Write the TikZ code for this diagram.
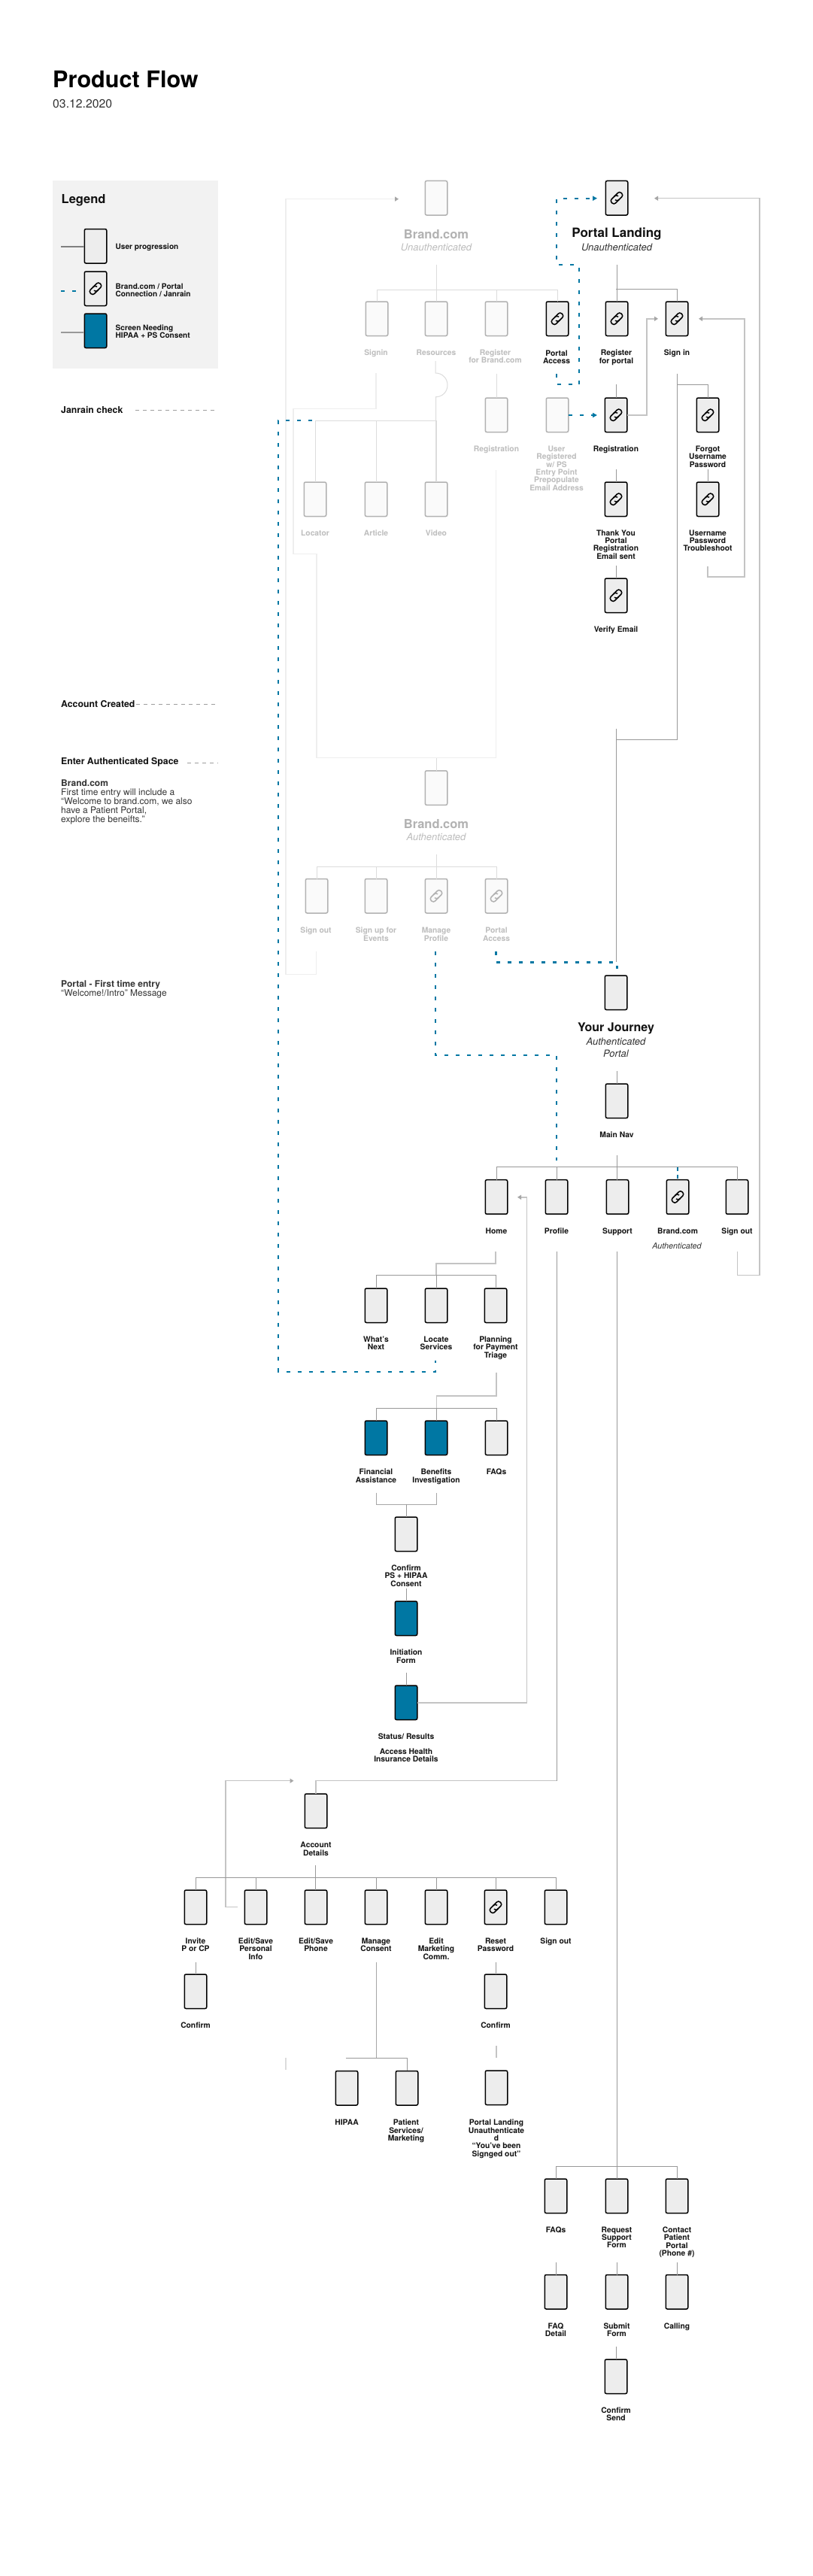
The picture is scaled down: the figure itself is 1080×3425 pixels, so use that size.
\documentclass[tikz,border=0pt]{standalone}
\usepackage{fontspec}
\setmainfont{TeX Gyre Heros}
\usetikzlibrary{arrows.meta}
\definecolor{brandblue}{HTML}{0077A3}
\definecolor{lineDark}{HTML}{999999}
\definecolor{lineMid}{HTML}{C4C4C4}
\definecolor{lineThin}{HTML}{DCDCDC}
\definecolor{lineFaint}{HTML}{EEEEEE}
\definecolor{lightText}{HTML}{BDBDBD}
\definecolor{inkText}{HTML}{111111}
\definecolor{softText}{HTML}{333333}
\newcommand{\fsz}[1]{\fontsize{#1}{#1}\selectfont}
\newcommand{\bigbus}[5][ln]{%
  \draw[#1] (#3.north) |- (#4.north |- 0,#2) -- (#4.north);
  \foreach \n in {#5}{\draw[#1] (\n.north) -- (\n.north |- 0,#2);}}
\tikzset{
  scrbase/.style={rectangle,anchor=north,minimum width=29.5pt,minimum height=45.5pt,
    line width=1.5pt,rounded corners=2pt,inner sep=0pt,outer sep=0pt},
  scrD/.style={scrbase,draw=black,fill=black!7},
  scrL/.style={scrbase,draw=black!30,fill=black!2},
  scrB/.style={scrbase,draw=black,fill=brandblue},
  lblbase/.style={anchor=north,align=center,inner sep=0pt,font=\fsz{10.3}\bfseries},
  lblD/.style={lblbase,text=inkText},
  lblL/.style={lblbase,text=lightText},
  headD/.style={anchor=center,inner sep=0pt,font=\fsz{16.5}\bfseries,text=inkText},
  headL/.style={anchor=center,inner sep=0pt,font=\fsz{16.5}\bfseries,text=black!30},
  subD/.style={anchor=center,inner sep=0pt,font=\fsz{13}\itshape,text=softText},
  subL/.style={anchor=center,inner sep=0pt,font=\fsz{13}\itshape,text=lightText},
  side/.style={anchor=west,inner sep=0pt,font=\fsz{12.3}\bfseries,text=inkText},
  sidetext/.style={anchor=north west,align=left,inner sep=0pt,font=\fsz{12},text=softText},
  leg/.style={anchor=north west,align=left,inner sep=0pt,font=\fsz{10.1}\bfseries,text=inkText},
  ln/.style={draw=lineDark,line width=1pt},
  mid/.style={draw=lineMid,line width=1.5pt},
  thinl/.style={draw=lineThin,line width=1pt},
  faint/.style={draw=lineFaint,line width=1.5pt},
  blue/.style={draw=brandblue,line width=2pt,dash pattern=on 5pt off 10pt},
  ruleln/.style={draw=black!38,line width=.75pt,dash pattern=on 5pt off 5pt},
  tipG/.style={-{Triangle[length=5pt,width=6pt,color=black!35]}},
  tipB/.style={-{Triangle[length=6pt,width=6pt,color=brandblue]}},
  iconD/.style={draw=black,line width=1.5pt},
  iconL/.style={draw=black!30,line width=1.5pt},
  chainicon/.pic={
    \begin{scope}[x={(0.7071pt,0.7071pt)},y={(-0.7071pt,0.7071pt)},rounded corners=3pt]
      \draw[pic actions] (3,0.3) -- (3,3.7) -- (-9,3.7) -- (-9,-3.7) -- (1,-3.7);
      \draw[pic actions] (-3,-0.3) -- (-3,-3.7) -- (9,-3.7) -- (9,3.7) -- (-1,3.7);
    \end{scope}}
}
\begin{document}
\begin{tikzpicture}[x=1pt,y=-1pt]
\useasboundingbox (0,0) rectangle (1080,3425);
\fill[white] (0,0) rectangle (1080,3425);

% ---- header and legend
\node[anchor=base west,inner sep=0pt,font=\fsz{30.6}\bfseries,text=black] (title) at (70,117) {Product Flow};
\node[anchor=base west,inner sep=0pt,font=\fsz{15.8},text=softText] (date) at (70,144) {03.12.2020};
\node[rectangle,fill=black!5,minimum width=220pt,minimum height=250pt,inner sep=0pt] (panel) at (180,365) {};
\node[anchor=base west,inner sep=0pt,font=\fsz{16.5}\bfseries,text=inkText] (legendT) at (81.5,270) {Legend};
\node[scrD] (legA) at (127,304.5) {};
\node[scrD] (legB) at (127,361) {};
\node[scrB] (legC) at (127,417) {};
\pic[iconD] at (legB) {chainicon};
\node[leg] (legAT) at (153.5,323.5) {User progression};
\node[leg] (legBT) at (153.5,377) {Brand.com / Portal\\Connection / Janrain};
\node[leg] (legCT) at (153.5,432) {Screen Needing\\HIPAA + PS Consent};
\coordinate (legAs) at (81,328.2);
\coordinate (legBs) at (81,386.8);
\coordinate (legCs) at (81,442);
\draw[draw=black!50,line width=1.5pt] (legAs) -- (legAs -| legA.west);
\draw[draw=black!40,line width=1.5pt] (legCs) -- (legCs -| legC.west);
\draw[draw=brandblue,line width=1.5pt,dash pattern=on 5pt off 10pt] (legBs) -- ++(20,0);

\node[side] (janrain) at (81,544.6) {Janrain check};
\coordinate (janA) at (180,545.4); \coordinate (janB) at (286,545.4);
\draw[ruleln] (janA) -- (janB);
\node[side] (created) at (81,935.7) {Account Created};
\coordinate (creA) at (181,936); \coordinate (creB) at (286,936);
\draw[ruleln] (creA) -- (creB);
\node[side] (enter) at (81,1013.7) {Enter Authenticated Space};
\coordinate (entA) at (249,1014.7); \coordinate (entB) at (290,1014.7);
\draw[ruleln] (entA) -- (entB);
\node[sidetext] (brandnote) at (81,1037) {\textbf{Brand.com}\\First time entry will include a\\“Welcome to brand.com, we also\\have a Patient Portal,\\explore the beneifts.”};
\node[sidetext] (portalnote) at (81,1303) {\textbf{Portal - First time entry}\\“Welcome!/Intro” Message};

% ---- Brand.com unauthenticated
\node[scrL] (brandtop) at (580,240.5) {};
\node[headL] (brandtopT) at (580,311.4) {Brand.com};
\node[subL] (brandtopS) at (580,328.8) {Unauthenticated};
\node[scrL] (signin) at (501,401) {};
\node[scrL] (resources) at (580,401) {};
\node[scrL] (regbrand) at (660,401) {};
\node[scrD] (portalacc) at (741,401) {};
\pic[iconD] at (portalacc) {chainicon};
\node[lblL] (signinT) at (500,464.5) {Signin};
\node[lblL] (resourcesT) at (580,464.5) {Resources};
\node[lblL] (regbrandT) at (658.5,464.5) {Register\\for Brand.com};
\node[lblD] (portalaccT) at (740,465.5) {Portal\\Access};
\node[scrL] (regb2) at (660,529) {};
\node[scrL] (userreg) at (741,529) {};
\node[lblL] (regb2T) at (660,592.8) {Registration};
\node[lblL] (userregT) at (740,592.8) {User\\Registered\\w/ PS\\Entry Point\\Prepopulate\\Email Address};
\node[scrL] (locator) at (419,641) {};
\node[scrL] (article) at (500,641) {};
\node[scrL] (video) at (580,641) {};
\node[lblL] (locatorT) at (419,704.5) {Locator};
\node[lblL] (articleT) at (500,704.5) {Article};
\node[lblL] (videoT) at (580,704.5) {Video};

% ---- Portal unauthenticated
\node[scrD] (portal) at (820,240.5) {};
\pic[iconD] at (portal) {chainicon};
\node[headD,font=\fsz{17}\bfseries] (portalT) at (820,311.4) {Portal Landing};
\node[subD] (portalS) at (820,328.8) {Unauthenticated};
\node[scrD] (regportal) at (820,401) {};
\pic[iconD] at (regportal) {chainicon};
\node[scrD] (signinp) at (900,401) {};
\pic[iconD] at (signinp) {chainicon};
\node[lblD] (regportalT) at (819.5,465) {Register\\for portal};
\node[lblD] (signinpT) at (900,464.7) {Sign in};
\node[scrD] (regp) at (819,529) {};
\pic[iconD] at (regp) {chainicon};
\node[lblD] (regpT) at (819,592.8) {Registration};
\node[scrD] (forgot) at (941,529) {};
\pic[iconD] at (forgot) {chainicon};
\node[lblD] (forgotT) at (941,592.8) {Forgot\\Username\\Password};
\node[scrD] (thanks) at (819,641) {};
\pic[iconD] at (thanks) {chainicon};
\node[lblD] (thanksT) at (819,704.5) {Thank You\\Portal\\Registration\\Email sent};
\node[scrD] (trouble) at (941,641) {};
\pic[iconD] at (trouble) {chainicon};
\node[lblD] (troubleT) at (941,704.5) {Username\\Password\\Troubleshoot};
\node[scrD] (verify) at (819,769) {};
\pic[iconD] at (verify) {chainicon};
\node[lblD] (verifyT) at (819,832.3) {Verify Email};

% ---- Brand.com authenticated
\node[scrL] (brandauth) at (580,1024.8) {};
\node[headL] (brandauthT) at (580,1095.4) {Brand.com};
\node[subL] (brandauthS) at (580,1112.9) {Authenticated};
\node[scrL] (signoutb) at (421,1168.5) {};
\node[scrL] (events) at (500,1168.5) {};
\node[scrL] (manage) at (580,1168.5) {};
\pic[iconL] at (manage) {chainicon};
\node[scrL] (portalb) at (660,1168.5) {};
\pic[iconL] at (portalb) {chainicon};
\node[lblL] (signoutbT) at (420,1233) {Sign out};
\node[lblL] (eventsT) at (500,1233) {Sign up for\\Events};
\node[lblL] (manageT) at (580,1233) {Manage\\Profile};
\node[lblL] (portalbT) at (660,1233) {Portal\\Access};

% ---- Your Journey
\node[scrD] (journey) at (819,1297) {};
\node[headD,font=\fsz{16}\bfseries] (journeyT) at (819,1367) {Your Journey};
\node[subD,align=center] (journeyS) at (819,1392.6) {Authenticated\\[3pt]Portal};
\node[scrD] (mainnav) at (820,1441) {};
\node[lblD] (mainnavT) at (820,1505) {Main Nav};
\node[scrD] (home) at (660,1568.7) {};
\node[scrD] (profile) at (740,1568.7) {};
\node[scrD] (support) at (821,1568.7) {};
\node[scrD] (brandnav) at (901,1568.7) {};
\pic[iconD] at (brandnav) {chainicon};
\node[scrD] (signoutn) at (980,1568.7) {};
\node[lblD] (homeT) at (660,1632.8) {Home};
\node[lblD] (profileT) at (740,1632.8) {Profile};
\node[lblD] (supportT) at (821,1632.8) {Support};
\node[lblD] (brandnavT) at (901,1632.8) {Brand.com};
\node[subD,font=\fsz{10.8}\itshape] (brandnavS) at (900,1656.4) {Authenticated};
\node[lblD] (signoutnT) at (980,1632.8) {Sign out};

% ---- Home branch
\node[scrD] (whats) at (500,1713) {};
\node[scrD] (locate) at (580,1713) {};
\node[scrD] (planning) at (659,1713) {};
\node[lblD] (whatsT) at (500,1776.8) {What’s\\Next};
\node[lblD] (locateT) at (580,1776.8) {Locate\\Services};
\node[lblD] (planningT) at (659,1776.8) {Planning\\for Payment\\Triage};
\node[scrB] (financial) at (500,1889) {};
\node[scrB] (benefits) at (580,1889) {};
\node[scrD] (faqa) at (660,1889) {};
\node[lblD] (financialT) at (500,1953) {Financial\\Assistance};
\node[lblD] (benefitsT) at (580,1953) {Benefits\\Investigation};
\node[lblD] (faqaT) at (660,1953) {FAQs};
\node[scrD] (confirmps) at (540,2017) {};
\node[lblD] (confirmpsT) at (540,2080.7) {Confirm\\PS + HIPAA\\Consent};
\node[scrB] (initiation) at (540,2129) {};
\node[lblD] (initiationT) at (540,2192.8) {Initiation\\Form};
\node[scrB] (status) at (540,2241) {};
\node[lblD] (statusT) at (540,2304.6) {Status/ Results};
\node[lblD] (accessT) at (540,2324.6) {Access Health\\Insurance Details};

% ---- Account branch
\node[scrD] (account) at (420,2385) {};
\node[lblD] (accountT) at (420,2449) {Account\\Details};
\node[scrD] (invite) at (260,2513) {};
\node[scrD] (editpers) at (340,2513) {};
\node[scrD] (editphone) at (420,2513) {};
\node[scrD] (consent) at (500,2513) {};
\node[scrD] (editmkt) at (580,2513) {};
\node[scrD] (resetpw) at (659,2513) {};
\pic[iconD] at (resetpw) {chainicon};
\node[scrD] (signouta) at (739,2513) {};
\node[lblD] (inviteT) at (260,2576.6) {Invite\\P or CP};
\node[lblD] (editpersT) at (340,2576.6) {Edit/Save\\Personal\\Info};
\node[lblD] (editphoneT) at (420,2576.6) {Edit/Save\\Phone};
\node[lblD] (consentT) at (500,2576.6) {Manage\\Consent};
\node[lblD] (editmktT) at (580,2576.6) {Edit\\Marketing\\Comm.};
\node[lblD] (resetpwT) at (659,2576.6) {Reset\\Password};
\node[lblD] (signoutaT) at (739,2576.6) {Sign out};
\node[scrD] (confirmi) at (260,2625) {};
\node[scrD] (confirmr) at (659,2625) {};
\node[lblD] (confirmiT) at (260,2688.6) {Confirm};
\node[lblD] (confirmrT) at (659,2688.6) {Confirm};
\node[scrD] (hipaa) at (461,2753.5) {};
\node[scrD] (patient) at (541,2753.5) {};
\node[scrD] (landing) at (660,2753) {};
\node[lblD] (hipaaT) at (461,2818) {HIPAA};
\node[lblD] (patientT) at (540,2818) {Patient\\Services/\\Marketing};
\node[lblD] (landingT) at (660,2818) {Portal Landing\\Unauthenticate\\d\\“You’ve been\\Signged out”};

% ---- Support branch
\node[scrD] (faqs) at (739,2897) {};
\node[scrD] (request) at (820,2897) {};
\node[scrD] (contact) at (900,2897) {};
\node[lblD] (faqsT) at (739,2960.6) {FAQs};
\node[lblD] (requestT) at (820,2960.6) {Request\\Support\\Form};
\node[lblD] (contactT) at (900,2960.6) {Contact\\Patient\\Portal\\(Phone \#)};
\node[scrD] (faqdetail) at (739,3024.5) {};
\node[scrD] (submit) at (820,3024.5) {};
\node[scrD] (calling) at (900,3024.5) {};
\node[lblD] (faqdetailT) at (739,3088.6) {FAQ\\Detail};
\node[lblD] (submitT) at (820,3088.6) {Submit\\Form};
\node[lblD] (callingT) at (900,3088.6) {Calling};
\node[scrD] (send) at (819,3137) {};
\node[lblD] (sendT) at (819,3200.6) {Confirm\\Send};

% ---- free ends of connectors
\coordinate (fSignin) at (500,496);
\coordinate (fRegb) at (659.3,624.5);
\coordinate (fSignoutb) at (420.3,1265);
\coordinate (aBrand) at (530,264.6);
\coordinate (sBrandtop) at (580.3,351.8);
\coordinate (sRes) at (579,480);
\coordinate (sRegb) at (660,496.6);
\coordinate (sBrandauth) at (580.3,1135.7);
\coordinate (sPortal) at (820.3,351.8);
\coordinate (sReg) at (819.3,511.4);
\coordinate (sThanks) at (819.3,624);
\coordinate (sVerify) at (819.3,752);
\coordinate (sTrouble) at (941,624);
\coordinate (sSignin) at (900.5,496.6);
\coordinate (sVerifyOut) at (819.3,968.6);
\coordinate (eJourney) at (819.3,1279);
\coordinate (sNav) at (820.3,1424.3);
\coordinate (sNavOut) at (820.3,1536);
\coordinate (aSignin) at (875,423.8);
\coordinate (aSigninR) at (929,423.8);
\coordinate (aPortalR) at (870,263.7);
\coordinate (sTroubleOut) at (940.8,752.9);
\coordinate (sSignoutn) at (980.4,1664);
\coordinate (sHome) at (658.8,1664.3);
\coordinate (sProfile) at (740.4,1664);
\coordinate (sSupport) at (820.5,1664);
\coordinate (aHome) at (688,1591.8);
\coordinate (sPlanning) at (660,1824.6);
\coordinate (sFin) at (500.3,1984.5);
\coordinate (sBen) at (580,1984.5);
\coordinate (sConfirm) at (540.3,2112.3);
\coordinate (sInit) at (540.3,2224);
\coordinate (sAcc) at (419.4,2480);
\coordinate (aAcc) at (390.5,2367.7);
\coordinate (sEditpers) at (315.7,2535.7);
\coordinate (sInvite) at (260.3,2608.7);
\coordinate (sReset) at (659.4,2608.7);
\coordinate (sConsent) at (500.3,2608.7);
\coordinate (sBusHipaa) at (460.4,2736.3);
\coordinate (sLand) at (660,2720);
\coordinate (sOrphanA) at (379.8,2736.3);
\coordinate (sOrphanB) at (379.8,2752.3);
\coordinate (sFaqD) at (739.3,3008.3);
\coordinate (sSubmit) at (820,3008.3);
\coordinate (sCall) at (900.3,3008.3);
\coordinate (sSend) at (819.3,3120);
\coordinate (bPA) at (740,497);
\coordinate (aPortal) at (794,263.7);
\coordinate (aRegp) at (794,552);
\coordinate (bPortalb) at (659,1265);
\coordinate (bJourney) at (820,1287.5);
\coordinate (bManage) at (579,1265);
\coordinate (bProfile) at (740,1543);
\coordinate (bLeftA) at (415,559.3);
\coordinate (bLeftB) at (579,1809);
\coordinate (bNav) at (901.2,1551.8);

% ---- faint Brand.com connectors
\draw[faint] (fSignin) |- (390,543.7) -- (390,736.4) -| (421,1007.5) -- (659.3,1007.5) -- (fRegb);
\draw[faint,tipG] (fSignoutb) |- (380,1295.7) -- (380,264.6) -- (aBrand);
\draw[thinl] (sBrandtop) -- (sBrandtop |- resources.north);
\bigbus[thinl]{385}{signin}{portalacc}{regbrand}
\draw[thinl] (sRes) -- (579,496) .. controls (588,496) and (595,503) .. (595,512) .. controls (595,521) and (588,527.7) .. (579.7,527.7) -- (579.7,640);
\bigbus[thinl]{559.3}{locator}{video}{article}
\draw[thinl] (sRegb) -- (sRegb |- regb2.north);
\draw[thinl] (brandauth.north) -- (580,1007.5);
\draw[thinl] (sBrandauth) -- (580.3,1152);
\bigbus[thinl]{1152}{signoutb}{portalb}{events,manage}

% ---- portal connectors
\draw[mid,tipG] (regp.east) -| (860,423.8) -- (aSignin);
\draw[mid,tipG] (sTroubleOut) |- (990,767.2) -- (990,423.8) -- (aSigninR);
\draw[mid,tipG] (sSignoutn) |- (1010,1695.7) -- (1010,263.7) -- (aPortalR);
\draw[ln] (sPortal) -- (sPortal |- regportal.north);
\draw[ln] (819,384.3) -| (signinp.north);
\draw[ln] (sReg) -- (sReg |- regp.north);
\draw[ln] (sThanks) -- (sThanks |- thanks.north);
\draw[ln] (sVerify) -- (sVerify |- verify.north);
\draw[ln] (sTrouble) -- (sTrouble |- trouble.north);
\draw[ln] (sSignin) |- (819.3,983);
\draw[ln] (900.5,511.4) -| (forgot.north);
\draw[ln] (sVerifyOut) -- (eJourney);
\draw[ln] (sNav) -- (sNav |- mainnav.north);
\draw[ln] (sNavOut) -- (sNavOut |- support.north);
\bigbus{1551.8}{home}{signoutn}{profile}

% ---- home branch connectors
\draw[ln] (sProfile) -- (740.4,2367.7);
\draw[ln] (sSupport) -- (820.5,2880.3);
\draw[mid] (sHome) |- (580,1680) -- (580,1695.6);
\bigbus{1695.6}{whats}{planning}{locate}
\draw[mid] (sPlanning) |- (580.3,1856) -- (580.3,1872.4);
\bigbus{1872.4}{financial}{faqa}{benefits}
\draw[draw=black!35,line width=1pt] (sFin) |- (sBen |- 0,2000) -- (sBen);
\draw[ln] (540.3,2000) -- (540.3 ,2016.5);
\draw[ln] (sConfirm) -- (sConfirm |- initiation.north);
\draw[ln] (sInit) -- (sInit |- status.north);
\draw[mid,tipG] (status.east) -| (700.3,1591.8) -- (aHome);

% ---- account connectors
\draw[mid] (740.4,2367.7) -| (account.north);
\draw[mid,tipG] (sEditpers) -| (299.9,2367.7) -- (aAcc);
\draw[ln] (sAcc) -- (sAcc |- editphone.north);
\bigbus{2496.7}{invite}{signouta}{editpers,consent,editmkt,resetpw}
\draw[ln] (sInvite) -- (sInvite |- confirmi.north);
\draw[ln] (sReset) -- (sReset |- confirmr.north);
\draw[draw=black!35,line width=1.25pt] (sConsent) -- (500.3,2736.3);
\draw[ln] (sBusHipaa) -- (541.6,2736.3) -- (541.6,2753);
\draw[mid,line width=2pt] (sLand) -- (660,2735.7);
\draw[thinl,line width=1.5pt] (sOrphanA) -- (sOrphanB);

% ---- support connectors
\bigbus{2880.3}{faqs}{contact}{request}
\draw[ln] (sFaqD) -- (sFaqD |- faqdetail.north);
\draw[ln] (sSubmit) -- (sSubmit |- submit.north);
\draw[ln] (sCall) -- (sCall |- calling.north);
\draw[ln] (sSend) -- (sSend |- send.north);

% ---- blue dashed connections
\draw[blue,tipB] (bPA) |- (769.7,511.4) -- (769.7,351.8) -- (740,351.8) -- (740,263.7) -- (aPortal);
\draw[blue,tipB] (userreg.east |- aRegp) -- (aRegp);
\draw[blue] (bLeftA) -- (370,559.3) -- (370,1823.8) -- (579,1823.8) -- (bLeftB);
\draw[blue,line width=3pt] (bPortalb) |- (820,1279) -- (bJourney);
\draw[blue] (bManage) |- (740,1403) -- (bProfile);
\draw[blue,dash pattern=on 5pt off 5pt] (bNav) -- (bNav |- brandnav.north);
\end{tikzpicture}
\end{document}
